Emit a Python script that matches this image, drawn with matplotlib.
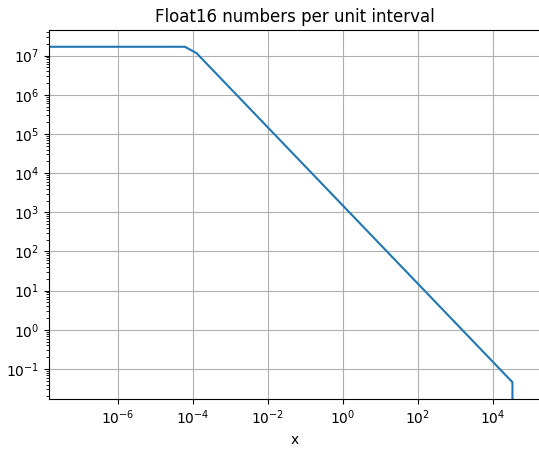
import matplotlib
matplotlib.use("Agg")
import matplotlib.pyplot as plt

# puntos (x, numeros por intervalo unitario)
xs = [1.45e-8, 6.1e-5, 1.25e-4, 3.3e4, 3.3e4]
densidad = [1.68e7, 1.68e7, 1.15e7, 0.046, 0.0]

W, H = 539, 449
fig = plt.figure(figsize=(W / 100, H / 100), dpi=100)
# el eje derecho queda fuera de la imagen (recortada)
ax = fig.add_axes([49 / W, 1 - 399 / H, (541 - 49) / W, (399 - 30) / H])
ax.plot(xs, densidad)
ax.set_xscale("log")
ax.set_yscale("log")
ax.set_xlim(10 ** -7.84, 10 ** 5.28)
ax.grid(True)
ax.set_title("Float16 numbers per unit interval")
ax.set_xlabel("x")
fig.savefig("out.png", dpi=100)
